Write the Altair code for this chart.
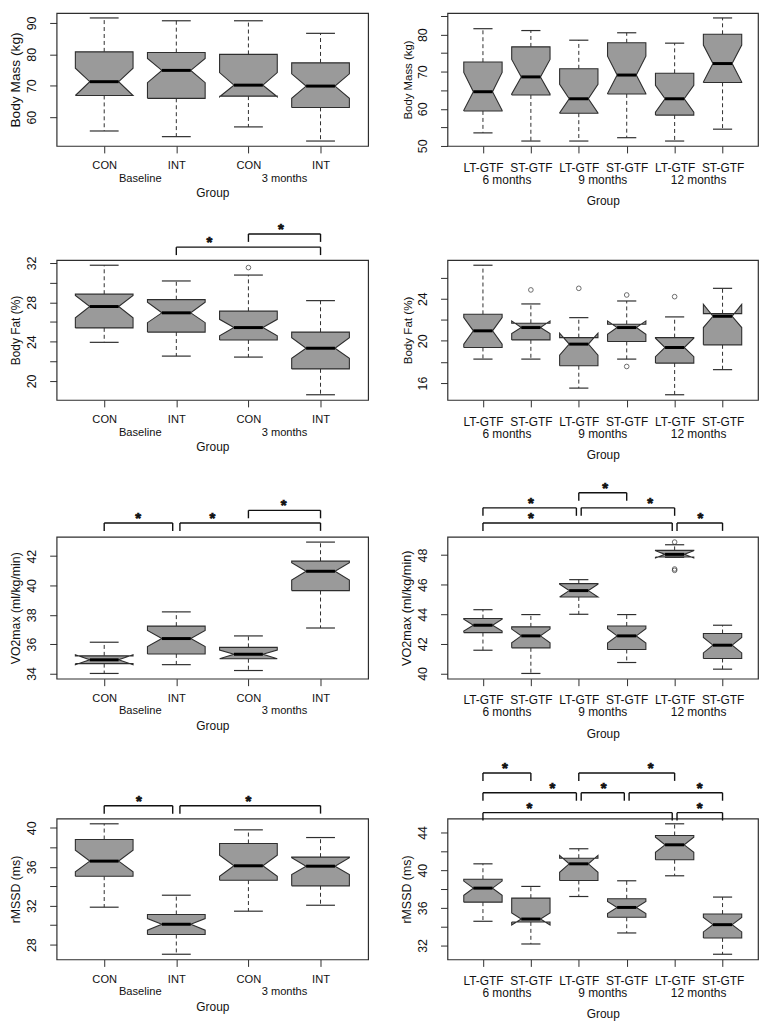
import json
import altair as alt
import pandas as pd

FONT = "Liberation Sans"
FILL = "#9a9a9a"
EDGE = "#2e2e2e"
INK = "#111111"

# ---------------- categories / tick labels ----------------
G1 = ["CON", "INT", "CON", "INT"]
P1 = ["Baseline", "3 months"]
G2 = ["LT-GTF", "ST-GTF", "LT-GTF", "ST-GTF", "LT-GTF", "ST-GTF"]
P2 = ["6 months", "9 months", "12 months"]

# ---------------- Body mass (kg), Baseline / 3 months ----------------
bm1_lo = [55.6, 53.8, 56.9, 52.4]
bm1_q1 = [66.9, 66.0, 66.7, 63.1]
bm1_med = [71.3, 74.9, 70.2, 69.9]
bm1_q3 = [80.8, 80.6, 80.0, 77.3]
bm1_hi = [91.6, 90.7, 90.7, 86.7]
bm1_nlo = [66.9, 71.0, 66.5, 66.0]
bm1_nhi = [75.6, 78.7, 74.2, 73.8]
bm1_out = []
bm1_ticks = [60, 70, 80, 90]
bm1_labels = [60, 70, 80, 90]
bm1_sig = []

# ---------------- Body mass (kg), 6 / 9 / 12 months ----------------
bm2_lo = [53.5, 51.3, 51.3, 52.2, 51.3, 54.5]
bm2_q1 = [59.4, 63.7, 58.8, 64.0, 58.3, 67.1]
bm2_med = [64.6, 68.6, 62.7, 69.1, 62.7, 72.2]
bm2_q3 = [72.6, 76.7, 70.8, 77.8, 69.6, 80.1]
bm2_hi = [81.6, 81.1, 78.5, 80.5, 77.7, 84.5]
bm2_nlo = [59.6, 64.0, 58.9, 64.1, 59.1, 67.2]
bm2_nhi = [69.8, 73.3, 66.6, 74.2, 66.3, 77.2]
bm2_out = []
bm2_ticks = [50, 55, 60, 65, 70, 75, 80, 85]
bm2_labels = [50, 60, 70, 80]
bm2_sig = []

# ---------------- Body fat (%), Baseline / 3 months ----------------
bf1_lo = [23.93, 22.53, 22.43, 18.6]
bf1_q1 = [25.4, 24.97, 24.17, 21.23]
bf1_med = [27.57, 26.93, 25.43, 23.33]
bf1_q3 = [28.83, 28.27, 27.1, 24.97]
bf1_hi = [31.77, 30.17, 30.77, 28.17]
bf1_nlo = [26.43, 25.93, 24.6, 22.3]
bf1_nhi = [28.7, 28.0, 26.27, 24.4]
bf1_out = [(3, 31.53)]
bf1_ticks = [20, 22, 24, 26, 28, 30, 32]
bf1_labels = [20, 24, 28, 32]
bf1_sig = [(2, 4, 0, 2.46), (3, 4, 1, 3.45)]

# ---------------- Body fat (%), 6 / 9 / 12 months ----------------
bf2_lo = [18.27, 18.27, 15.52, 18.27, 14.89, 17.27]
bf2_q1 = [19.37, 20.09, 17.64, 19.94, 17.89, 19.62]
bf2_med = [20.95, 21.26, 19.69, 21.26, 19.37, 22.33]
bf2_q3 = [22.52, 21.67, 20.31, 21.57, 20.31, 22.58]
bf2_hi = [27.17, 23.5, 22.2, 23.78, 22.27, 24.98]
bf2_nlo = [19.69, 20.69, 18.65, 20.63, 18.5, 21.26]
bf2_nhi = [22.2, 21.89, 20.72, 21.89, 20.25, 23.46]
bf2_out = [(2, 24.83), (3, 24.98), (4, 24.35), (4, 17.57), (5, 24.19)]
bf2_ticks = [16, 18, 20, 22, 24, 26]
bf2_labels = [16, 20, 24]
bf2_sig = []

# ---------------- VO2max (ml/kg/min), Baseline / 3 months ----------------
vo1_lo = [34.0, 34.6, 34.2, 37.1]
vo1_q1 = [34.67, 35.33, 35.0, 39.65]
vo1_med = [34.93, 36.38, 35.31, 40.97]
vo1_q3 = [35.2, 37.23, 35.78, 41.66]
vo1_hi = [36.13, 38.2, 36.56, 42.96]
vo1_nlo = [34.6, 35.83, 35.0, 40.37]
vo1_nhi = [35.27, 36.93, 35.6, 41.55]
vo1_out = []
vo1_ticks = [34, 36, 38, 40, 42]
vo1_labels = [34, 36, 38, 40, 42]
vo1_sig = [(1, 2, 0, 1.47), (2, 4, 0, 2.5), (3, 4, 1, 3.49)]

# ---------------- VO2max (ml/kg/min), 6 / 9 / 12 months ----------------
vo2_lo = [41.57, 40.0, 44.0, 40.74, 47.85, 40.29]
vo2_q1 = [42.76, 41.73, 45.17, 41.62, 47.87, 41.01]
vo2_med = [43.26, 42.54, 45.6, 42.54, 48.05, 41.91]
vo2_q3 = [43.71, 43.15, 46.07, 43.21, 48.32, 42.7]
vo2_hi = [44.31, 43.98, 46.34, 43.98, 48.7, 43.26]
vo2_nlo = [42.86, 42.07, 45.17, 42.05, 47.8, 41.39]
vo2_nhi = [43.66, 43.0, 46.03, 43.03, 48.3, 42.43]
vo2_out = [(5, 48.88), (5, 46.97), (5, 47.06)]
vo2_ticks = [40, 42, 44, 46, 48]
vo2_labels = [40, 42, 44, 46, 48]
vo2_sig = [(1, 5, 0, 2.0), (5, 6, 0, 5.54), (1, 3, 1, 2.0), (3, 5, 1, 4.49), (3, 4, 2, 3.55)]

# ---------------- rMSSD (ms), Baseline / 3 months ----------------
rm1_lo = [31.85, 27.02, 31.44, 32.05]
rm1_q1 = [35.03, 29.04, 34.62, 34.04]
rm1_med = [36.58, 30.1, 36.1, 36.06]
rm1_q3 = [38.8, 31.1, 38.39, 36.99]
rm1_hi = [40.41, 33.08, 39.79, 39.0]
rm1_nlo = [35.48, 29.49, 35.03, 35.2]
rm1_nhi = [37.71, 30.68, 37.19, 36.92]
rm1_out = []
rm1_ticks = [28, 30, 32, 34, 36, 38, 40]
rm1_labels = [28, 32, 36, 40]
rm1_sig = [(1, 2, 0, 1.48), (2, 4, 0, 3.0)]

# ---------------- rMSSD (ms), 6 / 9 / 12 months ----------------
rm2_lo = [34.57, 32.16, 37.2, 33.33, 39.4, 31.07]
rm2_q1 = [36.6, 34.5, 38.9, 34.99, 41.1, 32.8]
rm2_med = [38.09, 34.81, 40.67, 36.04, 42.69, 34.21]
rm2_q3 = [39.04, 37.03, 41.27, 36.96, 43.68, 35.34]
rm2_hi = [40.67, 38.27, 42.27, 38.87, 44.92, 37.14]
rm2_nlo = [37.34, 34.17, 39.77, 35.38, 41.89, 33.44]
rm2_nhi = [38.84, 35.45, 41.57, 36.68, 43.49, 34.98]
rm2_out = []
rm2_ticks = [32, 34, 36, 38, 40, 42, 44]
rm2_labels = [32, 36, 40, 44]
rm2_sig = [(1, 5, 0, 1.97), (5, 6, 0, 5.52), (1, 3, 1, 2.45), (3, 4, 1, 3.52),
           (4, 6, 1, 5.52), (1, 2, 2, 1.46), (3, 5, 2, 4.5)]


def pack(title, groups, periods, lo, q1, med, q3, hi, nlo, nhi, out, ticks, labels, sig):
    return dict(title=title, groups=groups, periods=periods, lo=lo, q1=q1, med=med, q3=q3,
                hi=hi, nlo=nlo, nhi=nhi, out=out, ticks=ticks, labels=labels, sig=sig)


PANELS = [
    pack("Body Mass (kg)", G1, P1, bm1_lo, bm1_q1, bm1_med, bm1_q3, bm1_hi, bm1_nlo, bm1_nhi, bm1_out, bm1_ticks, bm1_labels, bm1_sig),
    pack("Body Mass (kg)", G2, P2, bm2_lo, bm2_q1, bm2_med, bm2_q3, bm2_hi, bm2_nlo, bm2_nhi, bm2_out, bm2_ticks, bm2_labels, bm2_sig),
    pack("Body Fat (%)", G1, P1, bf1_lo, bf1_q1, bf1_med, bf1_q3, bf1_hi, bf1_nlo, bf1_nhi, bf1_out, bf1_ticks, bf1_labels, bf1_sig),
    pack("Body Fat (%)", G2, P2, bf2_lo, bf2_q1, bf2_med, bf2_q3, bf2_hi, bf2_nlo, bf2_nhi, bf2_out, bf2_ticks, bf2_labels, bf2_sig),
    pack("VO2max (ml/kg/min)", G1, P1, vo1_lo, vo1_q1, vo1_med, vo1_q3, vo1_hi, vo1_nlo, vo1_nhi, vo1_out, vo1_ticks, vo1_labels, vo1_sig),
    pack("VO2max (ml/kg/min)", G2, P2, vo2_lo, vo2_q1, vo2_med, vo2_q3, vo2_hi, vo2_nlo, vo2_nhi, vo2_out, vo2_ticks, vo2_labels, vo2_sig),
    pack("rMSSD (ms)", G1, P1, rm1_lo, rm1_q1, rm1_med, rm1_q3, rm1_hi, rm1_nlo, rm1_nhi, rm1_out, rm1_ticks, rm1_labels, rm1_sig),
    pack("rMSSD (ms)", G2, P2, rm2_lo, rm2_q1, rm2_med, rm2_q3, rm2_hi, rm2_nlo, rm2_nhi, rm2_out, rm2_ticks, rm2_labels, rm2_sig),
]

# ---------------- layout / style ----------------
LEFT_W, RIGHT_W, COL_GAP = 314, 313, 80
ROW_H = [134, 141, 143, 142]
ROW_GAP = [115, 138, 141]
TITLE_FS = [13.8, 11.5, 12.0, 11.7, 12.4, 12.8, 12.4, 12.5]
BRACKET = [None, None, (13, 13.3), None, (14, 12.7), (14, 15.2), (13, 14), (6, 20)]

HALF = 0.4      # half box width (category units)
NOTCH = 0.5     # notch waist fraction
CAP = 0.2       # half staple width
FX = [-1, 1, 1, NOTCH, 1, 1, -1, -1, -NOTCH, -1, -1]


def build_panel(p, width, height, right, title_fs, bracket):
    groups = p["groups"]
    n = len(groups)
    lo, q1, med, q3, hi, nlo, nhi = (p[k] for k in ("lo", "q1", "med", "q3", "hi", "nlo", "nhi"))
    out = p["out"]
    vals = lo + hi + [v for _, v in out]
    vmin, vmax = min(vals), max(vals)
    ext = 0.04 * (vmax - vmin)
    ys = alt.Scale(domain=[vmin - ext, vmax + ext], zero=False, nice=False)
    xs = alt.Scale(domain=[0.5 - 0.04 * n, n + 0.5 + 0.04 * n], zero=False, nice=False)

    xfs = 12 if right else 11.2
    lab_off = 21.5 if right else 20
    per_off = 34 if right else 33
    grp_off = 55 if right else 47

    xaxis = alt.Axis(
        values=list(range(1, n + 1)),
        labelExpr=json.dumps(groups) + "[datum.value - 1]",
        title="Group", grid=False, domain=False, ticks=True, tickSize=7, tickColor=EDGE,
        labelPadding=lab_off - 7, labelBaseline="middle", labelFlush=False, labelOverlap=False,
        labelFontSize=xfs, labelColor=INK, labelFont=FONT,
        titleFont=FONT, titleFontSize=12, titleFontWeight="normal", titleColor=INK,
        titleY=grp_off, titleBaseline="middle",
    )
    yaxis = alt.Axis(
        values=p["ticks"],
        labelExpr="indexof(" + json.dumps(p["labels"]) + ", datum.value) >= 0 ? datum.label : ''",
        title=p["title"], grid=False, domain=False, tickSize=7, tickColor=EDGE,
        labelAngle=270, labelAlign="center", labelBaseline="alphabetic", labelPadding=14,
        labelFontSize=12.5, labelColor=INK, labelFont=FONT, labelOverlap=False, labelFlush=False,
        minExtent=33, maxExtent=33, titlePadding=1,
        titleFont=FONT, titleFontSize=title_fs, titleFontWeight="normal", titleColor=INK,
    )
    X = alt.X("x:Q", scale=xs, axis=xaxis)
    Y = alt.Y("y:Q", scale=ys, axis=yaxis)

    poly_rows, whisk_rows, cap_rows, med_rows = [], [], [], []
    for i in range(n):
        c = i + 1
        yv = [q1[i], q1[i], nlo[i], med[i], nhi[i], q3[i], q3[i], nhi[i], med[i], nlo[i], q1[i]]
        for k, (f, y) in enumerate(zip(FX, yv)):
            poly_rows.append({"box": i, "k": k, "x": c + HALF * f, "y": y})
        whisk_rows.append({"x": c, "y": q3[i], "y2": hi[i]})
        whisk_rows.append({"x": c, "y": q1[i], "y2": lo[i]})
        cap_rows.append({"x": c - CAP, "x2": c + CAP, "y": hi[i]})
        cap_rows.append({"x": c - CAP, "x2": c + CAP, "y": lo[i]})
        med_rows.append({"x": c - HALF * NOTCH, "x2": c + HALF * NOTCH, "y": med[i]})

    layers = [
        alt.Chart(pd.DataFrame(whisk_rows)).mark_rule(color=EDGE, strokeWidth=1, strokeDash=[4, 3])
        .encode(x=X, y=Y, y2=alt.Y2("y2")),
        alt.Chart(pd.DataFrame(poly_rows)).mark_line(fill=FILL, stroke=EDGE, strokeWidth=1.1, strokeJoin="miter")
        .encode(x=X, y=Y, detail="box:N", order="k:Q"),
        alt.Chart(pd.DataFrame(med_rows)).mark_rule(color="black", strokeWidth=3)
        .encode(x=X, x2=alt.X2("x2"), y=Y),
        alt.Chart(pd.DataFrame(cap_rows)).mark_rule(color=EDGE, strokeWidth=1.2)
        .encode(x=X, x2=alt.X2("x2"), y=Y),
    ]
    if out:
        odf = pd.DataFrame({"x": [g for g, _ in out], "y": [v for _, v in out]})
        layers.append(alt.Chart(odf).mark_point(shape="circle", filled=False, size=22, strokeWidth=1, color=EDGE)
                      .encode(x=X, y=Y))
    per_df = pd.DataFrame({"x": [2 * k + 1.5 for k in range(len(p["periods"]))], "t": p["periods"]})
    layers.append(alt.Chart(per_df).mark_text(fontSize=xfs, baseline="middle", color=INK, font=FONT)
                  .encode(x=X, y=alt.value(height + per_off), text="t:N"))
    main = alt.layer(*layers)

    if p["sig"] and bracket:
        base, gap = bracket
        sig = p["sig"]
        rh, rv, rs = [], [], []
        for a, b, lev, star in sig:
            x1, x2 = float(a), float(b)
            if any(o[1] == a and o[2] == lev for o in sig):
                x1 += 0.05
            if any(o[0] == b and o[2] == lev for o in sig):
                x2 -= 0.05
            drop = lev - 8.0 / gap
            rh.append({"x": x1, "x2": x2, "y": lev})
            rv.append({"x": x1, "y": lev, "y2": drop})
            rv.append({"x": x2, "y": lev, "y2": drop})
            rs.append({"x": star, "y": lev})
        bys = alt.Scale(domain=[0, 2], range=[-base, -base - 2 * gap], zero=False, nice=False)
        BY = alt.Y("y:Q", scale=bys, axis=None)
        br = alt.layer(
            alt.Chart(pd.DataFrame(rh)).mark_rule(color=INK, strokeWidth=1.4)
            .encode(x=X, x2=alt.X2("x2"), y=BY),
            alt.Chart(pd.DataFrame(rv)).mark_rule(color=INK, strokeWidth=1.4)
            .encode(x=X, y=BY, y2=alt.Y2("y2")),
            alt.Chart(pd.DataFrame(rs)).mark_text(text="*", fontSize=15, fontWeight="bold",
                                                  baseline="alphabetic", color=INK, font=FONT,
                                                  stroke=INK, strokeWidth=0.7)
            .encode(x=X, y=BY),
        )
        chart = alt.layer(main, br).resolve_scale(y="independent")
    else:
        chart = main
    return chart.properties(width=width, height=height)


def spacer(h):
    return (alt.Chart(pd.DataFrame({"s": [0]})).mark_point(opacity=0)
            .encode(x=alt.X("s:Q", axis=None), y=alt.Y("s:Q", axis=None))
            .properties(width=10, height=h, view=alt.ViewBackground(strokeOpacity=0)))


cells = []
for r in range(4):
    for c in range(2):
        idx = 2 * r + c
        cells.append(build_panel(PANELS[idx], LEFT_W if c == 0 else RIGHT_W, ROW_H[r],
                                 c == 1, TITLE_FS[idx], BRACKET[idx]))
    if r < 3:
        cells.append(spacer(ROW_GAP[r]))
        cells.append(spacer(ROW_GAP[r]))

chart = (
    alt.concat(*cells, columns=2, bounds="flush", align="each",
               spacing={"row": 0, "column": COL_GAP})
    .properties(padding=0, background="white")
    .configure_view(stroke=EDGE, strokeWidth=1.2)
)

chart.save("out.html", embed_options={"renderer": "svg", "actions": False})
